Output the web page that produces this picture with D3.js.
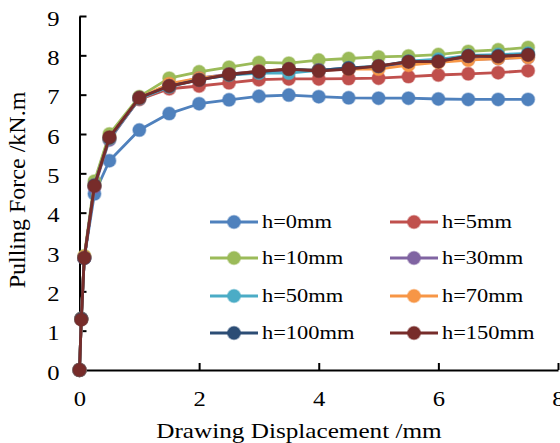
<!DOCTYPE html>
<html>
<head>
<meta charset="utf-8">
<script src="https://cdn.jsdelivr.net/npm/d3@7"></script>
<style>
  body { margin: 0; background: #fff; }
  svg { display: block; font-family: "Liberation Serif", "Times New Roman", serif; }
</style>
</head>
<body>
<div id="chart"></div>
<script>
// drawing displacement (mm)
const xValues = [0, 0.03, 0.08, 0.25, 0.5, 1, 1.5, 2, 2.5, 3, 3.5, 4, 4.5, 5, 5.5, 6, 6.5, 7, 7.5];

const seriesNames = ["h=0mm", "h=5mm", "h=10mm", "h=30mm", "h=50mm", "h=70mm", "h=100mm", "h=150mm"];
const seriesColors = ["#4F81BD", "#C0504D", "#9BBB59", "#8064A2", "#4BACC6", "#F79646", "#2C4D75", "#772C2A"];

// pulling force (kN.m)
const h0   = [0, 1.3, 2.85, 4.48, 5.32, 6.1, 6.52, 6.77, 6.87, 6.96, 6.99, 6.95, 6.92, 6.91, 6.91, 6.89, 6.88, 6.88, 6.88];
const h5   = [0, 1.3, 2.85, 4.68, 5.9, 6.88, 7.15, 7.22, 7.3, 7.38, 7.4, 7.4, 7.41, 7.42, 7.46, 7.5, 7.53, 7.56, 7.61];
const h10  = [0, 1.3, 2.9, 4.8, 6.0, 6.95, 7.42, 7.58, 7.7, 7.82, 7.8, 7.88, 7.92, 7.96, 7.98, 8.02, 8.1, 8.14, 8.2];
const h30  = [0, 1.3, 2.85, 4.65, 5.85, 6.9, 7.25, 7.42, 7.52, 7.6, 7.62, 7.63, 7.66, 7.7, 7.8, 7.85, 7.9, 7.92, 7.95];
const h50  = [0, 1.3, 2.85, 4.7, 5.88, 6.9, 7.2, 7.38, 7.5, 7.55, 7.55, 7.62, 7.68, 7.72, 7.85, 7.9, 8.0, 8.02, 8.05];
const h70  = [0, 1.3, 2.88, 4.7, 5.9, 6.92, 7.28, 7.42, 7.5, 7.6, 7.65, 7.62, 7.65, 7.65, 7.75, 7.82, 7.88, 7.92, 7.95];
const h100 = [0, 1.3, 2.85, 4.7, 5.9, 6.92, 7.22, 7.38, 7.5, 7.58, 7.65, 7.62, 7.68, 7.72, 7.84, 7.85, 7.98, 7.98, 8.02];
const h150 = [0, 1.28, 2.85, 4.68, 5.92, 6.92, 7.22, 7.37, 7.52, 7.59, 7.65, 7.6, 7.65, 7.73, 7.84, 7.84, 7.98, 7.97, 8.01];

const xTicks = [0, 2, 4, 6, 8];
const yTicks = [0, 1, 2, 3, 4, 5, 6, 7, 8, 9];

const allSeries = [h0, h5, h10, h30, h50, h70, h100, h150];

const width = 560, height = 443;
const stretchX = 1.2; // text in the picture looks a bit wide

const svg = d3.select("#chart").append("svg")
    .attr("width", width)
    .attr("height", height);

const x = d3.scaleLinear().domain([0, 8]).range([79.5, 558]);
const y = d3.scaleLinear().domain([0, 9]).range([370, 16]);

// widen a text around its own x position
function widen(sel, s) {
    sel.each(function() {
        const t = d3.select(this);
        const tx = +t.attr("x") || 0;
        t.attr("transform", `translate(${tx},0) scale(${s},1) translate(${-tx},0)`);
    });
}

// axes
const xAxis = svg.append("g")
    .attr("transform", `translate(0,${y(0)})`)
    .call(d3.axisBottom(x).tickValues(xTicks).tickSizeInner(-7).tickSizeOuter(0).tickPadding(21));

const yAxis = svg.append("g")
    .attr("transform", `translate(${x(0)},0)`)
    .call(d3.axisLeft(y).tickValues(yTicks).tickSizeInner(-7).tickSizeOuter(0).tickPadding(20));

[xAxis, yAxis].forEach(ax => {
    ax.select(".domain").attr("stroke", "#000").attr("stroke-width", 2);
    ax.selectAll(".tick line").attr("stroke", "#000").attr("stroke-width", 2);
    ax.selectAll(".tick text")
        .attr("font-family", "Liberation Serif, Times New Roman, serif")
        .attr("font-size", 20.5)
        .attr("fill", "#000");
});
yAxis.selectAll(".tick text").attr("dy", "0.45em");
widen(xAxis.selectAll(".tick text"), stretchX);
widen(yAxis.selectAll(".tick text"), stretchX);

// axis titles
const xTitle = svg.append("text")
    .attr("x", 299)
    .attr("y", 438)
    .attr("text-anchor", "middle")
    .attr("font-size", 21)
    .text("Drawing Displacement /mm");
widen(xTitle, 1.2);

svg.append("text")
    .attr("transform", "translate(25,190) rotate(-90)")
    .attr("text-anchor", "middle")
    .attr("font-size", 24)
    .text("Pulling Force /kN.m");

// series
const line = d3.line()
    .x((d, i) => x(xValues[i]))
    .y(d => y(d));

const seriesGroup = svg.append("g");

allSeries.forEach((vals, k) => {
    const g = seriesGroup.append("g");
    g.append("path")
        .datum(vals)
        .attr("fill", "none")
        .attr("stroke", seriesColors[k])
        .attr("stroke-width", 2.8)
        .attr("stroke-linejoin", "round")
        .attr("d", line);
    g.selectAll("circle")
        .data(vals)
        .enter().append("circle")
        .attr("cx", (d, i) => x(xValues[i]))
        .attr("cy", d => y(d))
        .attr("r", 6.5)
        .attr("fill", seriesColors[k])
        .attr("stroke", seriesColors[k])
        .attr("stroke-opacity", 0.45)
        .attr("stroke-width", 1.5);
});

// legend, two columns
const legend = svg.append("g");
const legendRows = [222, 258, 296, 333];
const legendCols = [210, 390];

seriesNames.forEach((name, k) => {
    const lx = legendCols[k % 2];
    const ly = legendRows[Math.floor(k / 2)];
    const item = legend.append("g").attr("transform", `translate(${lx},${ly})`);
    item.append("line")
        .attr("x1", 0).attr("x2", 48)
        .attr("stroke", seriesColors[k])
        .attr("stroke-width", 2.8);
    item.append("circle")
        .attr("cx", 24)
        .attr("r", 6.5)
        .attr("fill", seriesColors[k])
        .attr("stroke", seriesColors[k])
        .attr("stroke-opacity", 0.45)
        .attr("stroke-width", 1.5);
    const t = item.append("text")
        .attr("x", 52)
        .attr("dy", "0.33em")
        .attr("font-size", 19.5)
        .text(name);
    widen(t, 1.15);
});
</script>
</body>
</html>
